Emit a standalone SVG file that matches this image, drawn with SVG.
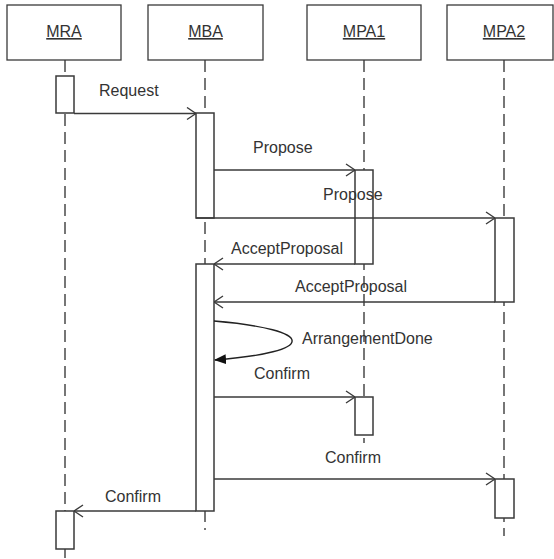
<svg xmlns="http://www.w3.org/2000/svg" width="554" height="559" viewBox="0 0 554 559">
  <defs>
    <style>
      .box { fill: #ffffff; stroke: #3a3a3a; stroke-width: 1.3; }
      .act { fill: #ffffff; stroke: #3a3a3a; stroke-width: 1.5; }
      .life { stroke: #4a4a4a; stroke-width: 1.5; stroke-dasharray: 12 6; fill: none; }
      .msg { stroke: #3a3a3a; stroke-width: 1.4; fill: none; marker-end: url(#open); }
      .self { stroke: #222222; stroke-width: 1.4; fill: none; marker-end: url(#solid); }
      .title { font-family: "Liberation Sans", Arial, sans-serif; font-size: 16px; fill: #333333; text-anchor: middle; text-decoration: underline; }
      .label { font-family: "Liberation Sans", Arial, sans-serif; font-size: 16px; fill: #333333; }
    </style>
    <marker id="open" viewBox="0 0 10 14" refX="10" refY="7" markerWidth="10" markerHeight="14" markerUnits="userSpaceOnUse" orient="auto">
      <path d="M1,1 L10,7 L1,13" fill="none" stroke="#3a3a3a" stroke-width="1.4"/>
    </marker>
    <marker id="solid" viewBox="0 0 12 10" refX="11" refY="5" markerWidth="12" markerHeight="10" markerUnits="userSpaceOnUse" orient="auto">
      <path d="M0,0 L12,5 L0,10 Z" fill="#111111"/>
    </marker>
  </defs>

  <!-- lifelines -->
  <g id="lifelines">
    <line class="life" x1="65" y1="60" x2="65" y2="559"/>
    <line class="life" x1="205" y1="60" x2="205" y2="530"/>
    <line class="life" x1="364" y1="60" x2="364" y2="443"/>
    <line class="life" x1="504" y1="60" x2="504" y2="536"/>
  </g>

  <!-- participants -->
  <g id="MRA">
    <rect class="box" x="7" y="5" width="114" height="55"/>
    <text class="title" x="64" y="37">MRA</text>
    <rect class="act" x="56" y="76" width="18" height="37"/>
    <rect class="act" x="56" y="511" width="18" height="38"/>
  </g>
  <g id="MBA">
    <rect class="box" x="148" y="5" width="115" height="55"/>
    <text class="title" x="205.5" y="37">MBA</text>
    <rect class="act" x="196" y="113" width="18" height="105"/>
    <rect class="act" x="196" y="264" width="18" height="247"/>
  </g>
  <g id="MPA1">
    <rect class="box" x="307" y="5" width="114" height="55"/>
    <text class="title" x="364" y="37">MPA1</text>
    <rect class="act" x="355" y="170" width="18" height="94"/>
    <rect class="act" x="355" y="397" width="18" height="38"/>
  </g>
  <g id="MPA2">
    <rect class="box" x="447" y="5" width="106" height="55"/>
    <text class="title" x="504" y="37">MPA2</text>
    <rect class="act" x="495" y="218" width="19" height="84"/>
    <rect class="act" x="495" y="479" width="19" height="39"/>
  </g>

  <!-- messages -->
  <g id="connectors">
    <line class="msg" x1="74" y1="113.5" x2="196" y2="113.5"/>
    <line class="msg" x1="214" y1="170" x2="355" y2="170"/>
    <line class="msg" x1="196" y1="218" x2="495" y2="218"/>
    <line class="msg" x1="355" y1="264" x2="214" y2="264"/>
    <line class="msg" x1="495" y1="302" x2="214" y2="302"/>
    <path class="self" d="M214,321 C318,330 318,352 215,360"/>
    <line class="msg" x1="214" y1="397" x2="355" y2="397"/>
    <line class="msg" x1="214" y1="479" x2="495" y2="479"/>
    <line class="msg" x1="196" y1="511" x2="74" y2="511"/>
  </g>

  <!-- message labels -->
  <g id="labels">
    <text class="label" x="99" y="96">Request</text>
    <text class="label" x="253" y="153">Propose</text>
    <text class="label" x="323" y="200">Propose</text>
    <text class="label" x="231" y="254">AcceptProposal</text>
    <text class="label" x="295" y="292">AcceptProposal</text>
    <text class="label" x="302" y="344">ArrangementDone</text>
    <text class="label" x="254" y="379">Confirm</text>
    <text class="label" x="325" y="463">Confirm</text>
    <text class="label" x="105" y="502">Confirm</text>
  </g>
</svg>
